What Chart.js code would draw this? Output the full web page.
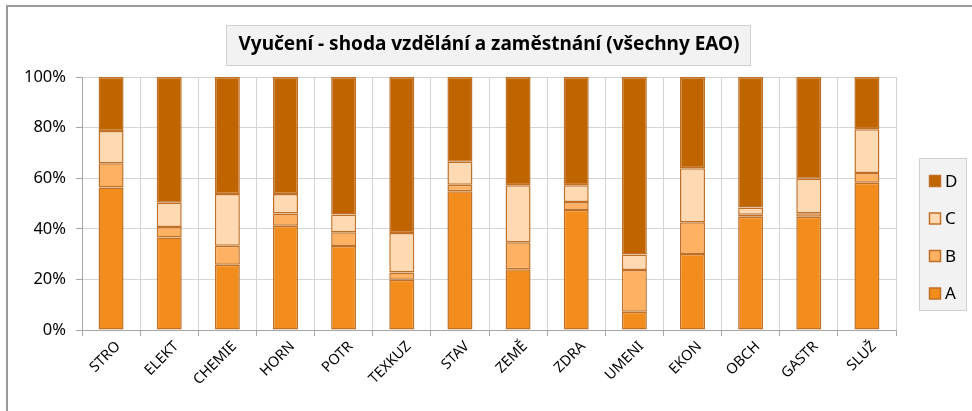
<!DOCTYPE html>
<html>
<head>
<meta charset="utf-8">
<script src="https://cdn.jsdelivr.net/npm/chart.js@4/dist/chart.umd.min.js"></script>
<style>
  html, body { margin: 0; padding: 0; background: #fff; }
  #wrap { width: 972px; height: 411px; }
</style>
</head>
<body>
<div id="wrap"><canvas id="c" width="972" height="411"></canvas></div>
<script>
// ── DATA ─────────────────────────────
const TITLE = 'Vyučení - shoda vzdělání a zaměstnání (všechny EAO)';
const CATEGORIES = ['STRO','ELEKT','CHEMIE','HORN','POTR','TEXKUZ','STAV','ZEMĚ','ZDRA','UMENI','EKON','OBCH','GASTR','SLUŽ'];
const SERIES_A = [56.3, 36.6, 25.8, 41.2, 33.2, 19.9, 54.8, 24.0, 47.4,  7.2, 30.0, 44.8, 44.8, 58.2];
const SERIES_B = [ 9.6,  4.1,  7.5,  4.8,  5.4,  2.8,  2.6, 10.7,  3.2, 16.5, 12.6,  0.8,  1.3,  3.9];
const SERIES_C = [12.8,  9.6, 20.5,  7.8,  7.1, 15.6,  9.1, 22.5,  6.6,  6.1, 21.3,  2.8, 13.7, 17.2];
const SERIES_D = [21.3, 49.7, 46.2, 46.2, 54.3, 61.7, 33.5, 42.8, 42.8, 70.2, 36.1, 51.6, 40.2, 20.7];
const Y_TICKS = [0, 20, 40, 60, 80, 100];

const FONT = "'Noto Sans', 'Open Sans', sans-serif";
const EDGE = '#BF7026';

const series = [
  { label: 'A', data: SERIES_A, color: '#F28C1C' },
  { label: 'B', data: SERIES_B, color: '#FFB163' },
  { label: 'C', data: SERIES_C, color: '#FFD9B1' },
  { label: 'D', data: SERIES_D, color: '#C06400' },
];

// ── DECORATION: frame, title box, legend box ─────
const decor = {
  id: 'decor',
  beforeDraw(chart) {
    const { ctx } = chart;
    ctx.save();
    ctx.strokeStyle = '#9a9a9a';
    ctx.lineWidth = 2;
    ctx.beginPath();
    ctx.moveTo(7, chart.height);
    ctx.lineTo(7, 6);
    ctx.lineTo(chart.width, 6);
    ctx.stroke();
    ctx.restore();
  },
  afterDraw(chart) {
    const { ctx } = chart;
    ctx.save();
    // title
    ctx.fillStyle = '#F2F2F2';
    ctx.strokeStyle = '#D0D0D0';
    ctx.lineWidth = 1;
    ctx.fillRect(226.5, 25.5, 524, 40);
    ctx.strokeRect(226.5, 25.5, 524, 40);
    ctx.fillStyle = '#000';
    ctx.font = `bold 19px ${FONT}`;
    ctx.textAlign = 'center';
    ctx.textBaseline = 'middle';
    ctx.fillText(TITLE, 489, 45);

    // legend
    ctx.fillStyle = '#F2F2F2';
    ctx.strokeStyle = '#D0D0D0';
    ctx.fillRect(919.5, 158.5, 47, 152);
    ctx.strokeRect(919.5, 158.5, 47, 152);
    ctx.font = `17px ${FONT}`;
    ctx.textAlign = 'left';
    const items = chart.data.datasets.slice().reverse();
    items.forEach((ds, i) => {
      const cy = 181 + i * 37.5;
      ctx.fillStyle = ds.backgroundColor;
      ctx.fillRect(929.5, cy - 5.5, 11, 11);
      ctx.strokeStyle = EDGE;
      ctx.lineWidth = 1.5;
      ctx.strokeRect(929.5, cy - 5.5, 11, 11);
      ctx.fillStyle = '#000';
      ctx.fillText(ds.label, 945, cy + 1);
    });
    ctx.restore();
  }
};

new Chart(document.getElementById('c'), {
  type: 'bar',
  data: {
    labels: CATEGORIES,
    datasets: series.map(s => ({
      label: s.label,
      data: s.data,
      backgroundColor: s.color,
      borderColor: EDGE,
      borderWidth: 1.5,
      borderSkipped: false,
      categoryPercentage: 1,
      barPercentage: 0.43,
    }))
  },
  options: {
    responsive: false,
    animation: false,
    devicePixelRatio: 1,
    layout: { padding: { top: 77, right: 76, bottom: 0, left: 0 } },
    plugins: {
      legend: { display: false },
      title: { display: false },
      tooltip: { enabled: false },
    },
    scales: {
      x: {
        stacked: true,
        grid: { color: '#D4D4D4', lineWidth: 1, tickLength: 6, tickColor: '#A6A6A6' },
        border: { color: '#A6A6A6', width: 1 },
        ticks: {
          color: '#000', font: { family: FONT, size: 14.5 },
          minRotation: 45, maxRotation: 45, padding: 2, labelOffset: 7,
        },
        afterFit: s => { s.height = 81; },
      },
      y: {
        stacked: true,
        min: 0, max: 100,
        afterBuildTicks: s => { s.ticks = Y_TICKS.map(v => ({ value: v })); },
        grid: { color: '#D4D4D4', lineWidth: 1, tickLength: 6, tickColor: '#A6A6A6' },
        border: { color: '#A6A6A6', width: 1 },
        ticks: {
          color: '#000', font: { family: FONT, size: 16.5 }, padding: 10,
          callback: v => v + '%',
        },
        afterFit: s => { s.width = 82; },
      }
    }
  },
  plugins: [decor]
});
</script>
</body>
</html>
